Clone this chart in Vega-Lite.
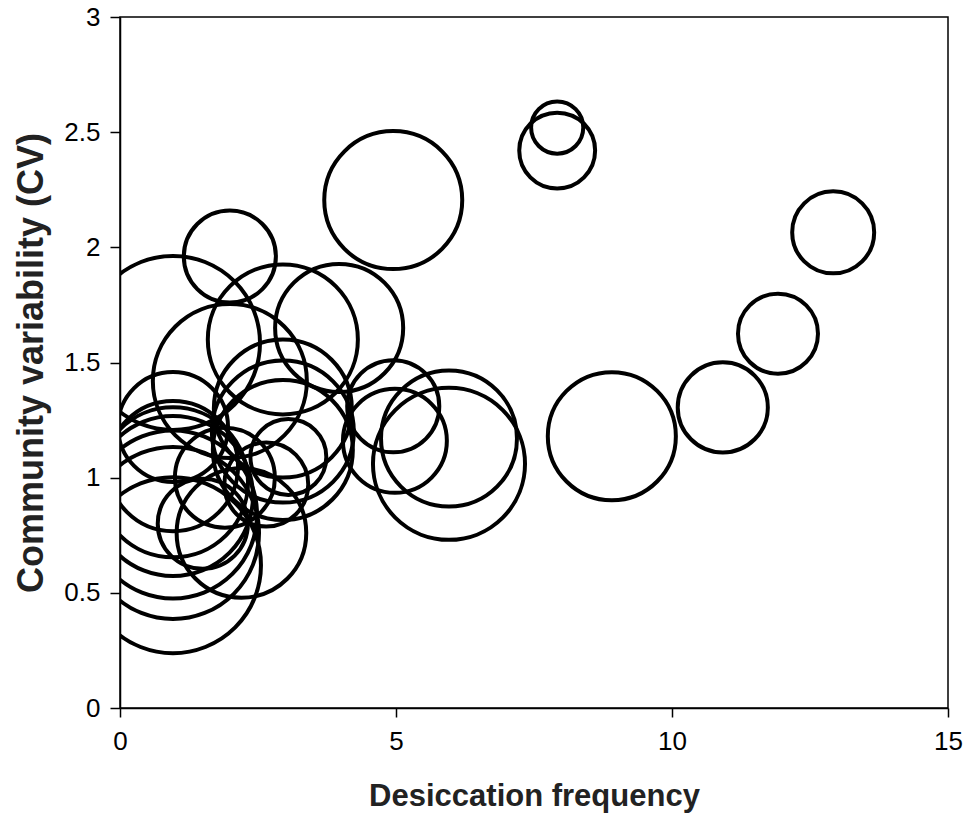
{
  "$schema": "https://vega.github.io/schema/vega-lite/v6.json",
  "autosize": {"type": "none"},
  "width": 828,
  "height": 691,
  "padding": {"left": 120, "top": 17, "right": 19, "bottom": 111},
  "background": "white",
  "config": {
    "view": {"stroke": "black", "strokeWidth": 1.5},
    "font": "Liberation Sans"
  },
  "data": {
    "values": [
      {"freq": 7.92, "cv": 2.52, "bubble": 6.8},
      {"freq": 7.92, "cv": 2.42, "bubble": 14.4},
      {"freq": 4.95, "cv": 2.205, "bubble": 47.6},
      {"freq": 12.92, "cv": 2.065, "bubble": 16.8},
      {"freq": 11.92, "cv": 1.625, "bubble": 16},
      {"freq": 10.92, "cv": 1.305, "bubble": 20.3},
      {"freq": 8.91, "cv": 1.18, "bubble": 41},
      {"freq": 5.96, "cv": 1.06, "bubble": 57.8},
      {"freq": 5.96, "cv": 1.17, "bubble": 46.2},
      {"freq": 4.95, "cv": 1.31, "bubble": 21.2},
      {"freq": 4.98, "cv": 1.16, "bubble": 27},
      {"freq": 1.99, "cv": 1.96, "bubble": 21.2},
      {"freq": 0.96, "cv": 1.585, "bubble": 75.7},
      {"freq": 2.95, "cv": 1.6, "bubble": 56.3},
      {"freq": 3.97, "cv": 1.65, "bubble": 41},
      {"freq": 1.99, "cv": 1.42, "bubble": 59.3},
      {"freq": 2.95, "cv": 1.3, "bubble": 47.6},
      {"freq": 2.95, "cv": 1.2, "bubble": 50.4},
      {"freq": 2.95, "cv": 1.12, "bubble": 49},
      {"freq": 3.05, "cv": 1.09, "bubble": 14.4},
      {"freq": 2.65, "cv": 0.97, "bubble": 17.6},
      {"freq": 2.2, "cv": 0.76, "bubble": 42},
      {"freq": 0.96, "cv": 1.22, "bubble": 30.3},
      {"freq": 0.96, "cv": 1.05, "bubble": 42.3},
      {"freq": 0.96, "cv": 0.98, "bubble": 56.3},
      {"freq": 0.96, "cv": 0.92, "bubble": 64},
      {"freq": 0.96, "cv": 0.84, "bubble": 70.6},
      {"freq": 0.96, "cv": 0.76, "bubble": 74},
      {"freq": 0.96, "cv": 0.62, "bubble": 77.4},
      {"freq": 1.5, "cv": 0.8, "bubble": 20.3},
      {"freq": 1.9, "cv": 1.0, "bubble": 25}
    ]
  },
  "mark": {"type": "circle", "filled": false, "stroke": "black", "strokeWidth": 4, "opacity": 1, "clip": true},
  "encoding": {
    "x": {
      "field": "freq", "type": "quantitative",
      "scale": {"domain": [0, 15], "nice": false},
      "axis": {
        "title": "Desiccation frequency", "values": [0, 5, 10, 15], "grid": false,
        "domainColor": "black", "domainWidth": 1.5, "tickColor": "black", "tickWidth": 1.5, "tickSize": 9,
        "labelFontSize": 26, "labelColor": "black", "labelPadding": 11, "labelFlush": false,
        "titleFontSize": 31, "titleFontWeight": "bold", "titleColor": "#222", "titlePadding": 27
      }
    },
    "y": {
      "field": "cv", "type": "quantitative",
      "scale": {"domain": [0, 3], "nice": false},
      "axis": {
        "title": "Community variability (CV)", "values": [0, 0.5, 1, 1.5, 2, 2.5, 3], "grid": false, "format": "~g",
        "domainColor": "black", "domainWidth": 1.5, "tickColor": "black", "tickWidth": 1.5, "tickSize": 10,
        "labelFontSize": 26, "labelColor": "black", "labelPadding": 10, "labelFlush": false,
        "titleFontSize": 36, "titleFontWeight": "bold", "titleColor": "#222", "titlePadding": 13
      }
    },
    "size": {
      "field": "bubble", "type": "quantitative",
      "scale": {"type": "linear", "domain": [0, 100], "range": [0, 40000], "zero": true},
      "legend": null
    }
  }
}
